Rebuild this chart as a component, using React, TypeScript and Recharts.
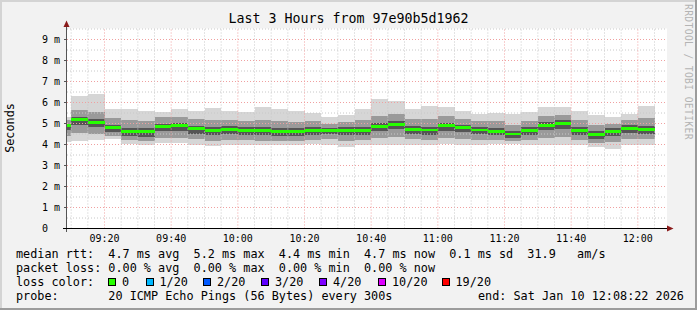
import React from 'react';
import { ComposedChart, Area, XAxis, YAxis, CartesianGrid, ReferenceLine } from 'recharts';

// minutes after 09:00 where each 5 min step begins (first one is cut by the left edge)
const stepStart = [8.75, 10, 15, 20, 25, 30, 35, 40, 45, 50, 55, 60, 65, 70, 75, 80, 85, 90, 95, 100, 105, 110, 115, 120, 125, 130, 135, 140, 145, 150, 155, 160, 165, 170, 175, 180];
const stepEnd = 185;

// rtt in ms
const median = [4.89, 5.19, 5.05, 4.79, 4.63, 4.6, 4.86, 4.89, 4.74, 4.68, 4.71, 4.67, 4.65, 4.6, 4.6, 4.67, 4.68, 4.68, 4.67, 4.87, 4.97, 4.72, 4.69, 4.89, 4.8, 4.69, 4.64, 4.5, 4.68, 4.92, 5.01, 4.68, 4.46, 4.63, 4.78, 4.71];
const rttMax = [5.3, 6.31, 6.41, 5.67, 5.68, 5.58, 5.55, 5.68, 5.6, 5.74, 5.58, 5.57, 5.79, 5.68, 5.61, 5.52, 5.3, 5.4, 5.68, 6.16, 6.06, 5.68, 5.82, 5.77, 5.58, 5.44, 5.49, 5.44, 5.54, 5.77, 5.77, 5.58, 5.39, 5.3, 5.44, 5.82];
const rttMin = [4.14, 4.17, 4.22, 4.26, 4.01, 4.0, 4.05, 4.05, 4.0, 3.95, 4.0, 4.0, 4.0, 4.0, 4.0, 4.03, 4.0, 3.89, 4.0, 4.0, 4.0, 4.0, 3.97, 4.03, 4.0, 4.0, 4.03, 4.03, 4.0, 4.0, 4.0, 4.0, 3.86, 3.79, 4.0, 4.0];
const p90 = [5.15, 5.62, 5.55, 5.25, 5.15, 5.1, 5.3, 5.3, 5.2, 5.15, 5.15, 5.1, 5.15, 5.1, 5.05, 5.1, 5.0, 5.05, 5.15, 5.35, 5.45, 5.2, 5.2, 5.35, 5.2, 5.1, 5.1, 4.95, 5.1, 5.35, 5.4, 5.15, 4.95, 5.0, 5.15, 5.25];
const p70 = [5.0, 5.32, 5.2, 4.95, 4.8, 4.78, 5.0, 5.02, 4.9, 4.85, 4.86, 4.83, 4.82, 4.78, 4.77, 4.82, 4.8, 4.82, 4.83, 5.02, 5.12, 4.88, 4.85, 5.03, 4.95, 4.84, 4.8, 4.66, 4.83, 5.07, 5.15, 4.85, 4.63, 4.78, 4.93, 4.88];
const p30 = [4.68, 4.95, 4.82, 4.58, 4.42, 4.38, 4.62, 4.65, 4.52, 4.45, 4.48, 4.45, 4.43, 4.4, 4.4, 4.46, 4.48, 4.46, 4.45, 4.62, 4.72, 4.5, 4.47, 4.66, 4.58, 4.48, 4.44, 4.32, 4.47, 4.68, 4.75, 4.47, 4.27, 4.42, 4.56, 4.5];
const p10 = [4.4, 4.55, 4.5, 4.4, 4.2, 4.18, 4.32, 4.33, 4.25, 4.18, 4.22, 4.2, 4.18, 4.17, 4.18, 4.22, 4.25, 4.15, 4.2, 4.3, 4.35, 4.25, 4.22, 4.33, 4.28, 4.23, 4.22, 4.15, 4.22, 4.32, 4.35, 4.22, 4.08, 4.1, 4.28, 4.25];

const timeTicks = [20, 40, 60, 80, 100, 120, 140, 160, 180];
const timeLabels = ['09:20', '09:40', '10:00', '10:20', '10:40', '11:00', '11:20', '11:40', '12:00'];
const msTicks = [0, 1, 2, 3, 4, 5, 6, 7, 8, 9];

const lossLabels = ['0', '1/20', '2/20', '3/20', '4/20', '10/20', '19/20'];
const lossColors = ['#26ff00', '#00b8ff', '#0059ff', '#5e00ff', '#7e00ff', '#dd00ff', '#ff0000'];
const swatchLeft = [108, 145.5, 203, 261, 319, 378, 441.5];

const minorX = Array.from({ length: 36 }, (_, i) => 10 + i * 5);
const minorY = Array.from({ length: 19 }, (_, i) => 0.5 + i * 0.5);

const rows: any[] = stepStart.map((t, i) => ({
  t,
  outer: [rttMin[i], rttMax[i]],
  mid: [p10[i], p90[i]],
  inner: [p30[i], p70[i]],
  med: [median[i] - 0.07, median[i] + 0.07],
}));
rows.push({ ...rows[rows.length - 1], t: stepEnd });

const mono = "'DejaVu Sans Mono', monospace";
const W = 697;
const H = 310;
const chartMargin = { top: 28.5, right: 30, bottom: 61.5, left: 0 };
// same plot box, for the chart whose axes are hidden
const overlayMargin = { top: 28.5, right: 30, bottom: 81.5, left: 67 };
const xDomain = [8.75, 188.75];
const yDomain = [0, 200 / 21];

const Line = ({ top, children }: { top: number; children: React.ReactNode }) => (
  <div style={{ position: 'absolute', left: 16, top, fontFamily: mono, fontSize: 11.8, lineHeight: '14px', whiteSpace: 'pre', color: '#000' }}>
    {children}
  </div>
);

const App = () => {
  return (
    <div style={{ position: 'absolute', left: 0, top: 0, width: W, height: H, background: '#f2f2f2', boxShadow: 'inset -2px -2px 0 #9c9c9c, inset 2px 2px 0 #d4d4d4', overflow: 'hidden' }}>
      <style>{`.recharts-area-area { shape-rendering: crispEdges; }`}</style>
      <div style={{ position: 'absolute', left: 0, width: W, top: 11, textAlign: 'center', fontFamily: mono, fontSize: 13.3, lineHeight: '16px', color: '#000' }}>
        Last 3 Hours from 97e90b5d1962
      </div>
      <div style={{ position: 'absolute', left: 3, top: 128, width: 14, height: 0, fontFamily: mono, fontSize: 11.8 }}>
        <div style={{ position: 'absolute', left: 7, top: 0, transform: 'translate(-50%, -50%) rotate(-90deg)', whiteSpace: 'nowrap' }}>Seconds</div>
      </div>
      <div style={{ position: 'absolute', left: 683, top: 4, writingMode: 'vertical-rl', fontFamily: mono, fontSize: 9.6, color: '#b4b4b4', whiteSpace: 'nowrap', letterSpacing: 0.4 }}>
        RRDTOOL / TOBI OETIKER
      </div>

      {/* smoke + grid */}
      <div style={{ position: 'absolute', left: 0, top: 0 }}>
        <ComposedChart width={W} height={H} data={rows} margin={chartMargin}>
          <CartesianGrid fill="#ffffff" horizontal={false} vertical={false} />
          <XAxis
            dataKey="t"
            type="number"
            domain={xDomain}
            ticks={timeTicks}
            tickFormatter={(v: number) => timeLabels[timeTicks.indexOf(v)] ?? ''}
            allowDataOverflow
            height={20}
            axisLine={false}
            tickLine={false}
            tickSize={0}
            tickMargin={6}
            tick={{ fontFamily: mono, fontSize: 10, fill: '#000' }}
          />
          <YAxis
            type="number"
            domain={yDomain}
            ticks={msTicks}
            allowDataOverflow
            width={67}
            axisLine={false}
            tickLine={{ stroke: '#555' }}
            tickSize={3}
            tickMargin={4}
            tickFormatter={(v: number) => (v === 0 ? '0\u00a0\u00a0' : `${v} m`)}
            tick={{ fontFamily: mono, fontSize: 10, fill: '#000' }}
          />
          <Area type="stepAfter" dataKey="outer" stroke="none" fill="#d6d6d6" fillOpacity={1} dot={false} activeDot={false} isAnimationActive={false} />
          <Area type="stepAfter" dataKey="mid" stroke="none" fill="#9a9a9a" fillOpacity={1} dot={false} activeDot={false} isAnimationActive={false} />
          <Area type="stepAfter" dataKey="inner" stroke="none" fill="#555555" fillOpacity={1} dot={false} activeDot={false} isAnimationActive={false} />
          {minorY.map((v) => (
            <ReferenceLine key={`hy${v}`} y={v} stroke={Number.isInteger(v) ? '#f0a0a0' : '#c8c8c8'} strokeDasharray="1 2" />
          ))}
          {minorX.map((v) => (
            <ReferenceLine key={`vx${v}`} x={v} stroke={v % 20 === 0 ? '#f0a0a0' : '#c8c8c8'} strokeDasharray="1 2" />
          ))}
        </ComposedChart>
      </div>

      {/* median on top, same scales */}
      <div style={{ position: 'absolute', left: 0, top: 0, pointerEvents: 'none' }}>
        <ComposedChart width={W} height={H} data={rows} margin={overlayMargin}>
          <XAxis dataKey="t" type="number" domain={xDomain} allowDataOverflow hide />
          <YAxis type="number" domain={yDomain} allowDataOverflow hide />
          <Area type="stepAfter" dataKey="med" stroke="none" fill="#26ff00" fillOpacity={1} dot={false} activeDot={false} isAnimationActive={false} />
        </ComposedChart>
      </div>

      <svg width={W} height={H} style={{ position: 'absolute', left: 0, top: 0, pointerEvents: 'none' }}>
        <line x1={66.5} y1={232} x2={66.5} y2={24} stroke="#555" />
        <polygon points="63.5,27 66.5,20.5 69.5,27" fill="#8a1a1a" />
        <line x1={63} y1={228.5} x2={668} y2={228.5} stroke="#000" />
        <polygon points="667,225.5 673.5,228.5 667,231.5" fill="#8a1a1a" />
      </svg>

      <Line top={247}>median rtt:  4.7 ms avg  5.2 ms max  4.4 ms min  4.7 ms now  0.1 ms sd  31.9   am/s</Line>
      <Line top={261}>packet loss: 0.00 % avg  0.00 % max  0.00 % min  0.00 % now</Line>
      <Line top={275}>loss color:</Line>
      {lossLabels.map((label, i) => (
        <div key={label} style={{ position: 'absolute', left: swatchLeft[i], top: 275, height: 14, display: 'flex', alignItems: 'center', fontFamily: mono, fontSize: 11.8, whiteSpace: 'pre' }}>
          <span style={{ display: 'inline-block', width: 6, height: 6, border: '1px solid #000', background: lossColors[i], marginRight: 6 }} />
          <span>{label}</span>
        </div>
      ))}
      <Line top={289}>probe:       20 ICMP Echo Pings (56 Bytes) every 300s</Line>
      <div style={{ position: 'absolute', left: 478, top: 289, fontFamily: mono, fontSize: 11.8, lineHeight: '14px', whiteSpace: 'pre' }}>
        end: Sat Jan 10 12:08:22 2026
      </div>
    </div>
  );
};

export default App;
